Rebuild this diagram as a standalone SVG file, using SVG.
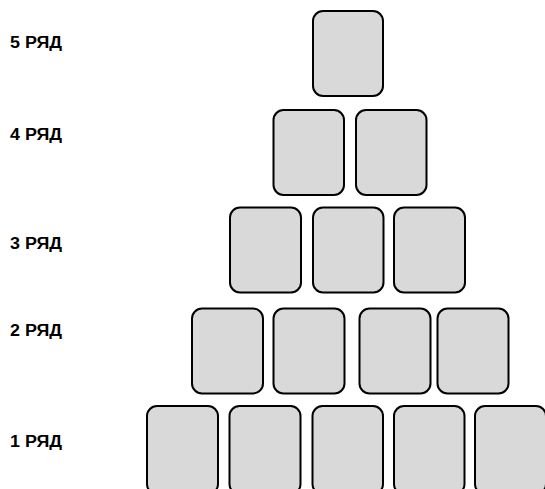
<svg xmlns="http://www.w3.org/2000/svg" width="545" height="489" viewBox="0 0 545 489">
<style>
.card{fill:#d9d9d9;stroke:#000;stroke-width:2;}
.lbl{font-family:"Liberation Sans",Arial,sans-serif;font-weight:bold;font-size:16px;fill:#000;}
</style>
<rect width="545" height="489" fill="#fff"/>
<g id="labels">
<text class="lbl" x="10" y="48" textLength="52" lengthAdjust="spacingAndGlyphs">5 РЯД</text>
<text class="lbl" x="10" y="140" textLength="52" lengthAdjust="spacingAndGlyphs">4 РЯД</text>
<text class="lbl" x="10" y="249" textLength="52" lengthAdjust="spacingAndGlyphs">3 РЯД</text>
<text class="lbl" x="10" y="336" textLength="52" lengthAdjust="spacingAndGlyphs">2 РЯД</text>
<text class="lbl" x="10" y="447" textLength="52" lengthAdjust="spacingAndGlyphs">1 РЯД</text>
</g>
<g id="row5">
<rect id="r5c1" class="card" x="313" y="11" width="70" height="85" rx="10"/>
</g>
<g id="row4">
<rect id="r4c1" class="card" x="273.5" y="110" width="70.5" height="85" rx="10"/>
<rect id="r4c2" class="card" x="356" y="110" width="70.5" height="85" rx="10"/>
</g>
<g id="row3">
<rect id="r3c1" class="card" x="230" y="207.5" width="71" height="85" rx="10"/>
<rect id="r3c2" class="card" x="313" y="207.5" width="70.5" height="85" rx="10"/>
<rect id="r3c3" class="card" x="394" y="207.5" width="71" height="85" rx="10"/>
</g>
<g id="row2">
<rect id="r2c1" class="card" x="192" y="308.5" width="71" height="85" rx="10"/>
<rect id="r2c2" class="card" x="273.5" y="308.5" width="71" height="85" rx="10"/>
<rect id="r2c3" class="card" x="359.5" y="308.5" width="71" height="85" rx="10"/>
<rect id="r2c4" class="card" x="437.5" y="308.5" width="71" height="85" rx="10"/>
</g>
<g id="row1">
<rect id="r1c1" class="card" x="147" y="406" width="71" height="88" rx="10"/>
<rect id="r1c2" class="card" x="229.5" y="406" width="71" height="88" rx="10"/>
<rect id="r1c3" class="card" x="312.5" y="406" width="70.5" height="88" rx="10"/>
<rect id="r1c4" class="card" x="394" y="406" width="70.5" height="88" rx="10"/>
<rect id="r1c5" class="card" x="475" y="406" width="71" height="88" rx="10"/>
</g>
</svg>
